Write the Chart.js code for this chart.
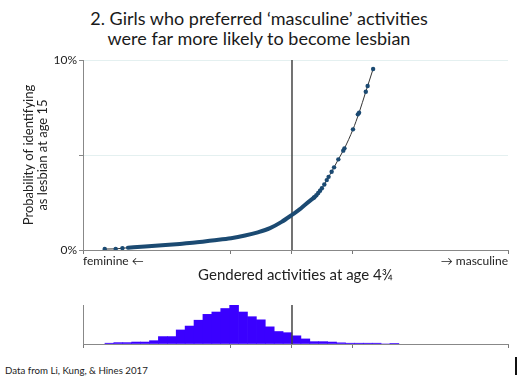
<!DOCTYPE html>
<html>
<head>
<meta charset="utf-8">
<script src="https://cdn.jsdelivr.net/npm/chart.js@4.4.1/dist/chart.umd.min.js"></script>
<style>
  body { margin: 0; background: #fff; width: 518px; height: 379px; overflow: hidden; position: relative; font-family: Lato, 'Open Sans', sans-serif; }
  #title { position: absolute; left: 0; top: 8px; width: 518px; text-align: center; font-size: 18px; line-height: 20px; color: #1a1a1a; }
  #note { position: absolute; left: 5px; top: 364px; font-size: 9.7px; color: #222; }
  #cursor { position: absolute; left: 515px; top: 357px; width: 1.5px; height: 18px; background: #111; }
  #main { position: absolute; left: 0; top: 0; }
  #hist { position: absolute; left: 0; top: 290px; }
</style>
</head>
<body>
<div id="title">2. Girls who preferred ‘masculine’ activities<br>were far more likely to become lesbian</div>
<canvas id="main" width="518" height="290"></canvas>
<canvas id="hist" width="518" height="70"></canvas>
<div id="note">Data from Li, Kung, &amp; Hines 2017</div>
<div id="cursor"></div>
<script>
// gendered activity score (SD units, 0 = vertical line) and probability in %
const curveX = [-3.07, -2.89, -2.69, -2.41, -2.13, -1.84, -1.59, -1.31, -1.0, -0.77, -0.56, -0.36, -0.17, 0, 0.13, 0.21, 0.38, 0.49, 0.57, 0.65, 0.76, 0.86, 1.0, 1.1, 1.21, 1.33];
const curveY = [0.05, 0.06, 0.12, 0.18, 0.25, 0.32, 0.39, 0.50, 0.62, 0.76, 0.93, 1.15, 1.48, 1.85, 2.15, 2.37, 2.81, 3.25, 3.68, 4.12, 4.77, 5.35, 6.35, 7.23, 8.33, 9.53];

// individual girls that stand apart from the dense band
const markerX = [-3.07, -2.89, -2.78, 0.36, 0.40, 0.43, 0.46, 0.49, 0.53, 0.57, 0.60, 0.65, 0.69, 0.76, 0.84, 0.86, 1.0, 1.08, 1.10, 1.21, 1.24, 1.33];
const markerY = [0.05, 0.06, 0.10, 2.76, 2.88, 3.0, 3.12, 3.25, 3.45, 3.68, 3.85, 4.12, 4.35, 4.77, 5.23, 5.35, 6.35, 7.14, 7.23, 8.33, 8.63, 9.53];

// where the points pile up into a thick band
const bandFrom = -2.7, bandTo = 0.38;

// histogram of scores (bin centres, relative counts)
const binCenters = [-2.993, -2.847, -2.701, -2.555, -2.409, -2.263, -2.117, -1.971, -1.825, -1.679, -1.533, -1.387, -1.241, -1.095, -0.949, -0.803, -0.657, -0.511, -0.365, -0.219, -0.073, 0.073, 0.219, 0.365, 0.511, 0.657, 0.803, 0.949, 1.095, 1.241, 1.387, 1.533, 1.679];
const binCounts = [0.02, 0.035, 0.035, 0.05, 0.05, 0.085, 0.19, 0.19, 0.36, 0.46, 0.61, 0.76, 0.82, 0.91, 1.0, 0.82, 0.70, 0.62, 0.44, 0.32, 0.29, 0.21, 0.13, 0.06, 0.06, 0.05, 0.03, 0.02, 0.02, 0.02, 0.02, 0, 0.01];

const xMin = -3.426, xMax = 3.541;
const xTicks = [xMin, -1, 0, 1, xMax];
const yTicks = [0, 5, 10];

const fontFam = "Lato, 'Open Sans', sans-serif";
const pts = (xs, ys) => xs.map((x, i) => ({ x: x, y: ys[i] }));
const curvePts = pts(curveX, curveY);
const bandPts = curvePts.filter(p => p.x >= bandFrom && p.x <= bandTo);

new Chart(document.getElementById('main'), {
  type: 'scatter',
  data: {
    datasets: [
      { data: [{ x: 0, y: 0 }, { x: 0, y: 10 }], showLine: true, borderColor: '#444', borderWidth: 1.5, pointRadius: 0, order: 4 },
      { data: curvePts, showLine: true, borderColor: '#333', borderWidth: 1, pointRadius: 0, cubicInterpolationMode: 'monotone', order: 3 },
      { data: bandPts, showLine: true, borderColor: '#1b4a72', borderWidth: 4, borderCapStyle: 'round', pointRadius: 0, cubicInterpolationMode: 'monotone', order: 2 },
      { data: pts(markerX, markerY), showLine: false, pointRadius: 2.2, pointBackgroundColor: '#1b4a72', pointBorderWidth: 0, order: 1 }
    ]
  },
  options: {
    responsive: false,
    animation: false,
    events: [],
    layout: { padding: { top: 60, right: 10, left: 0, bottom: 0 } },
    plugins: { legend: { display: false }, tooltip: { enabled: false } },
    scales: {
      x: {
        type: 'linear', min: xMin, max: xMax,
        afterBuildTicks: s => { s.ticks = xTicks.map(v => ({ value: v })); },
        afterFit: s => { s.height = 40; },
        grid: { drawOnChartArea: false, tickLength: 4, tickColor: '#777' },
        border: { color: '#888' },
        ticks: {
          autoSkip: false, maxRotation: 0, align: 'inner', padding: 0, color: '#222',
          font: { family: fontFam, size: 12 },
          callback: v => v === xMin ? 'feminine ←' : (v === xMax ? '→ masculine' : '')
        },
        title: { display: true, text: 'Gendered activities at age 4¾', color: '#222', font: { family: fontFam, size: 15 }, padding: { top: 0, bottom: 6 } }
      },
      y: {
        min: 0, max: 10,
        afterBuildTicks: s => { s.ticks = yTicks.map(v => ({ value: v })); },
        afterFit: s => { s.width = 83; },
        grid: { color: '#e4f0f0', tickLength: 4, tickColor: '#888' },
        border: { color: '#888' },
        ticks: { padding: 2, color: '#222', font: { family: fontFam, size: 12 }, callback: v => v === 5 ? '' : v + '%' },
        title: { display: true, text: ['Probability of identifying', 'as lesbian at age 15'], color: '#222', font: { family: fontFam, size: 13, lineHeight: 1.05 }, padding: { top: 22, bottom: 0 } }
      }
    }
  }
});

new Chart(document.getElementById('hist'), {
  type: 'bar',
  data: {
    datasets: [
      { type: 'line', data: [{ x: 0, y: 0 }, { x: 0, y: 1 }], borderColor: '#444', borderWidth: 1.5, pointRadius: 0, order: 0 },
      { data: pts(binCenters, binCounts), backgroundColor: '#3a00ff', borderWidth: 0, barPercentage: 1, categoryPercentage: 1, order: 1 }
    ]
  },
  options: {
    responsive: false,
    animation: false,
    events: [],
    layout: { padding: { top: 15, right: 10, left: 0, bottom: 0 } },
    plugins: { legend: { display: false }, tooltip: { enabled: false } },
    scales: {
      x: {
        type: 'linear', min: xMin, max: xMax, offset: false,
        afterBuildTicks: s => { s.ticks = xTicks.map(v => ({ value: v })); },
        afterFit: s => { s.height = 16; },
        grid: { offset: false, drawOnChartArea: false, tickLength: 4, tickColor: '#777' },
        border: { color: '#888' },
        ticks: { callback: () => '' }
      },
      y: {
        min: 0, max: 1,
        afterFit: s => { s.width = 83; },
        grid: { drawOnChartArea: false, drawTicks: false },
        border: { color: '#888' },
        ticks: { display: false }
      }
    }
  }
});
</script>
</body>
</html>
